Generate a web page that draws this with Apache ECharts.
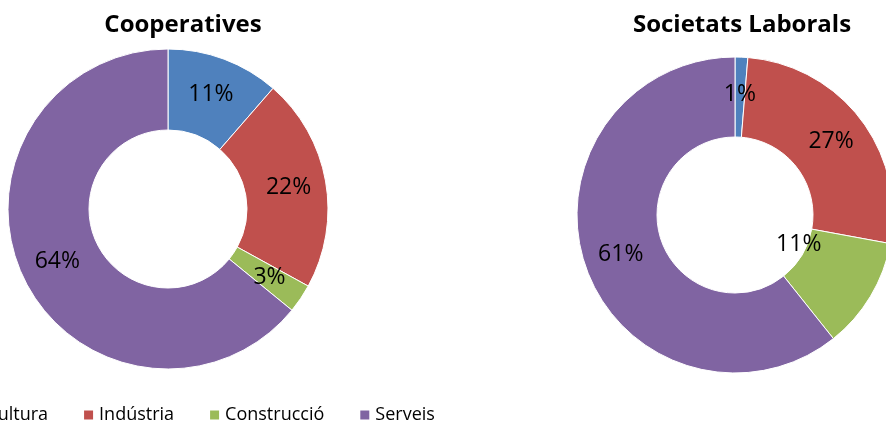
<!DOCTYPE html>
<html>
<head>
<meta charset="utf-8">
<script src="https://cdn.jsdelivr.net/npm/echarts@6/dist/echarts.min.js"></script>
<style>
  html, body { margin: 0; padding: 0; background: #fff; }
  #chart { width: 886px; height: 423px; }
</style>
</head>
<body>
<div id="chart"></div>
<script>
const sectors = ['Agricultura', 'Indústria', 'Construcció', 'Serveis']
const cooperatives = [11.4, 21.6, 2.9, 64.1]
const societatsLaborals = [1.3, 26.6, 11.4, 60.7]
const colors = ['#4f81bd', '#c0504d', '#9bbb59', '#8064a2']
const font = 'Open Sans'

function pieData(values, moved) {
  return values.map((v, i) => {
    const item = {name: sectors[i], value: v}
    // Excel pushed this label toward the hole
    if (moved && moved[i]) item.label = {offset: moved[i]}
    return item
  })
}

const baseSeries = {
  type: 'pie',
  radius: [79, 160],
  startAngle: 90,
  percentPrecision: 0,
  avoidLabelOverlap: false,
  itemStyle: {borderColor: '#fff', borderWidth: 1},
  label: {
    position: 'inside',
    formatter: '{d}%',
    color: '#000',
    fontFamily: font,
    fontSize: 23
  },
  labelLine: {show: false},
  emphasis: {disabled: true}
}

const titleStyle = {fontFamily: font, fontSize: 24, fontWeight: 'bold', color: '#000'}

const chart = echarts.init(document.getElementById('chart'))
chart.setOption({
  animation: false,
  color: colors,
  title: [
    {text: 'Cooperatives', left: 178, top: 8, textAlign: 'center', textStyle: titleStyle},
    {text: 'Societats Laborals', left: 737, top: 8, textAlign: 'center', textStyle: titleStyle}
  ],
  legend: {
    data: sectors,
    left: -66,
    top: 401,
    itemWidth: 11,
    itemHeight: 11,
    itemGap: 34,
    icon: 'rect',
    textStyle: {fontFamily: font, fontSize: 18, color: '#000'}
  },
  series: [
    Object.assign({}, baseSeries, {
      name: 'Cooperatives',
      center: [168, 209],
      data: pieData(cooperatives)
    }),
    Object.assign({}, baseSeries, {
      name: 'Societats Laborals',
      center: [735, 215],
      radius: [78, 158],
      data: pieData(societatsLaborals, {2: [-40, -33]})
    })
  ]
})
</script>
</body>
</html>
